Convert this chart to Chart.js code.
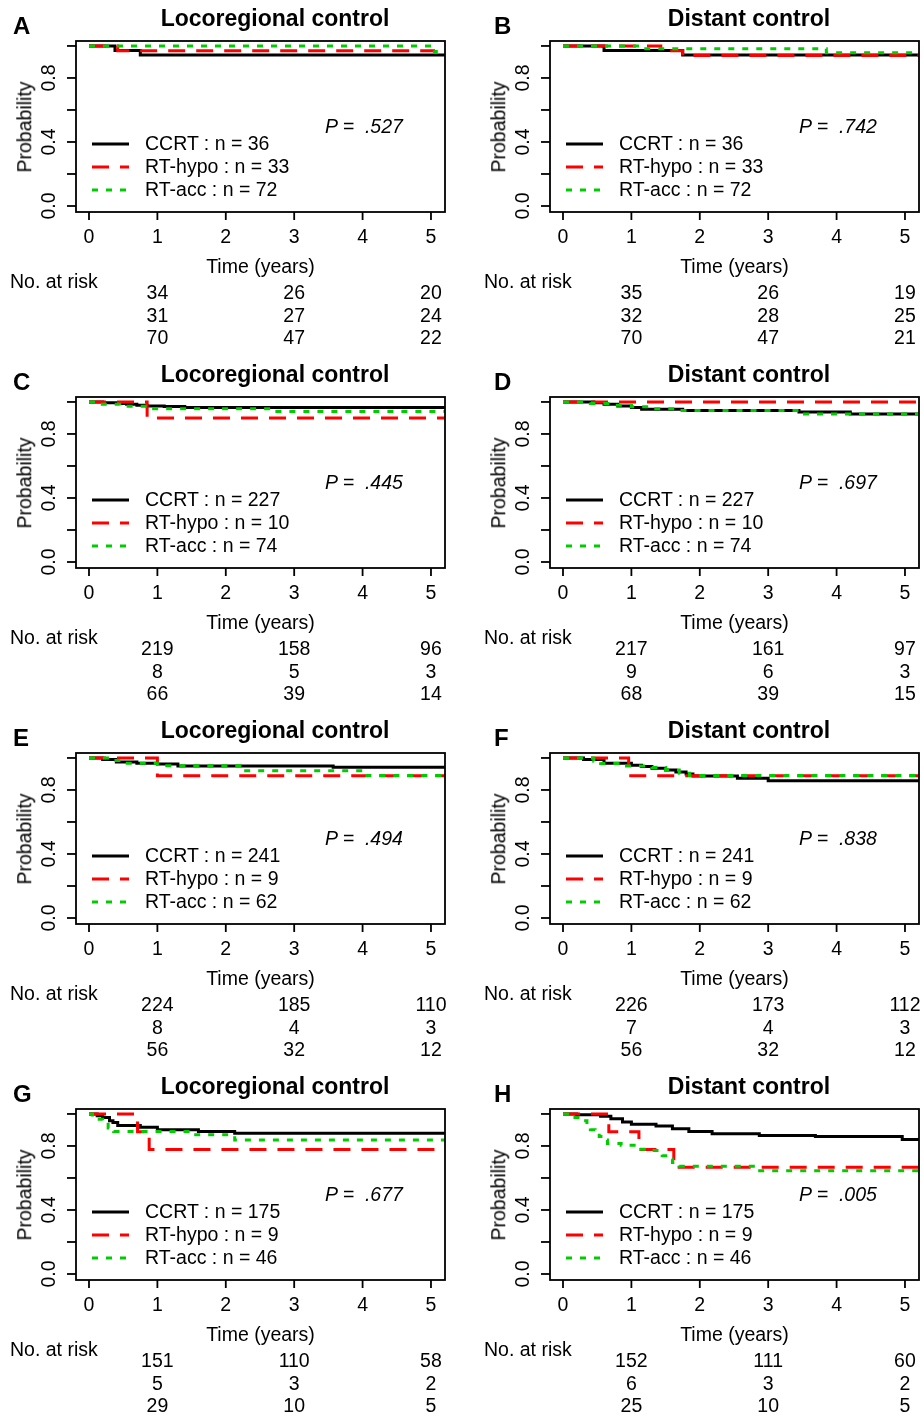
<!DOCTYPE html>
<html>
<head>
<meta charset="utf-8">
<script src="https://cdn.jsdelivr.net/npm/chart.js@4.4.0/dist/chart.umd.min.js"></script>
<style>
body { margin: 0; background: #fff; }
#page { position: relative; width: 924px; height: 1419px; overflow: hidden; font-family: "Liberation Sans", Arial, sans-serif; color: #000; }
.panel { position: absolute; width: 450px; height: 356px; }
.panel canvas { position: absolute; left: 0; top: 0; }
.t { position: absolute; white-space: pre; font-size: 19.5px; line-height: 1; }
.c { transform: translate(-50%, -50%); }
.l { transform: translate(0, -50%); }
.title { font-weight: bold; font-size: 23px; }
.letter { font-weight: bold; font-size: 24px; }
.ylab { transform: translate(-50%, -50%) rotate(-90deg); }
.pval { font-style: italic; }
</style>
</head>
<body>
<div id="page"></div>
<script>
const letters = ['A', 'B', 'C', 'D', 'E', 'F', 'G', 'H']
const titles = ['Locoregional control', 'Distant control', 'Locoregional control', 'Distant control',
                'Locoregional control', 'Distant control', 'Locoregional control', 'Distant control']
const pValues = ['.527', '.742', '.445', '.697', '.494', '.838', '.677', '.005']
const groups = ['CCRT', 'RT-hypo', 'RT-acc']
const groupN = [[36, 33, 72], [36, 33, 72], [227, 10, 74], [227, 10, 74],
                [241, 9, 62], [241, 9, 62], [175, 9, 46], [175, 9, 46]]

const xTicks = [0, 1, 2, 3, 4, 5]
const yTicks = [0, 0.2, 0.4, 0.6, 0.8, 1]
const yLabels = [0, 0.4, 0.8]
const riskTimes = [1, 3, 5]

// [time, survival] steps, one array per curve
const kmA_ccrt = [[0, 1], [0.38, 0.972], [0.75, 0.944], [6, 0.944]]
const kmA_hypo = [[0, 1], [0.42, 0.97], [5.06, 0.97]]
const kmA_acc = [[0, 1], [5.05, 0.965], [5.1, 0.965]]

const kmB_ccrt = [[0, 1], [0.6, 0.972], [1.75, 0.944], [6, 0.944]]
const kmB_hypo = [[0, 1], [1.43, 0.97], [1.75, 0.94], [6, 0.94]]
const kmB_acc = [[0, 1], [1.17, 0.983], [3.85, 0.957], [6, 0.957]]

const kmC_ccrt = [[0, 1], [0.2, 0.995], [0.4, 0.99], [0.55, 0.985], [0.7, 0.98], [0.85, 0.975], [1.1, 0.971], [1.4, 0.966], [6, 0.966]]
const kmC_hypo = [[0, 1], [0.85, 0.9], [6, 0.9]]
const kmC_acc = [[0, 1], [0.1, 0.986], [0.45, 0.973], [0.85, 0.957], [2.65, 0.94], [6, 0.94]]

const kmD_ccrt = [[0, 1], [0.45, 0.995], [0.6, 0.985], [0.8, 0.975], [1.0, 0.965], [1.15, 0.955], [1.75, 0.947], [3.45, 0.937], [4.2, 0.925], [6, 0.925]]
const kmD_hypo = [[0, 1], [6, 1]]
const kmD_acc = [[0, 1], [0.4, 0.99], [0.7, 0.98], [1.0, 0.97], [1.3, 0.958], [1.7, 0.947], [3.5, 0.925], [6, 0.925]]

const kmE_ccrt = [[0, 1], [0.2, 0.99], [0.4, 0.975], [0.7, 0.967], [1.0, 0.962], [1.3, 0.95], [3.57, 0.942], [6, 0.942]]
const kmE_hypo = [[0, 1], [1.0, 0.889], [6, 0.889]]
const kmE_acc = [[0, 1], [0.3, 0.984], [0.5, 0.967], [1.0, 0.952], [2.25, 0.92], [4.0, 0.89], [6, 0.89]]

const kmF_ccrt = [[0, 1], [0.3, 0.99], [0.6, 0.967], [1.0, 0.955], [1.15, 0.946], [1.3, 0.935], [1.5, 0.925], [1.65, 0.912],
                  [1.8, 0.9], [1.9, 0.888], [2.55, 0.873], [3.0, 0.858], [6, 0.858]]
const kmF_hypo = [[0, 1], [0.96, 0.889], [6, 0.889]]
const kmF_acc = [[0, 1], [0.45, 0.98], [0.55, 0.965], [0.9, 0.95], [1.3, 0.94], [1.5, 0.925], [1.7, 0.905], [1.85, 0.89], [6, 0.89]]

const kmG_ccrt = [[0, 1], [0.12, 0.989], [0.2, 0.978], [0.3, 0.957], [0.35, 0.946], [0.42, 0.928], [0.75, 0.917], [1.0, 0.902],
                  [1.6, 0.891], [2.13, 0.88], [6, 0.88]]
const kmG_hypo = [[0, 1], [0.71, 0.889], [0.88, 0.778], [6, 0.778]]
const kmG_acc = [[0, 1], [0.05, 0.978], [0.11, 0.967], [0.2, 0.946], [0.28, 0.913], [0.36, 0.891], [1.5, 0.87], [2.13, 0.837], [6, 0.837]]

const kmH_ccrt = [[0, 1], [0.2, 0.995], [0.55, 0.985], [0.7, 0.97], [0.87, 0.95], [1.0, 0.935], [1.36, 0.924], [1.6, 0.907],
                  [1.84, 0.891], [2.18, 0.876], [2.87, 0.865], [3.69, 0.859], [4.96, 0.841], [6, 0.841]]
const kmH_hypo = [[0, 1], [0.67, 0.889], [1.11, 0.778], [1.62, 0.667], [6, 0.667]]
const kmH_acc = [[0, 1], [0.15, 0.978], [0.28, 0.957], [0.35, 0.935], [0.4, 0.902], [0.47, 0.88], [0.53, 0.859], [0.6, 0.837],
                 [0.65, 0.815], [0.85, 0.804], [1.1, 0.78], [1.3, 0.772], [1.45, 0.739], [1.55, 0.717], [1.6, 0.696],
                 [1.7, 0.674], [2.82, 0.645], [6, 0.645]]

const curves = [
    [kmA_ccrt, kmA_hypo, kmA_acc], [kmB_ccrt, kmB_hypo, kmB_acc],
    [kmC_ccrt, kmC_hypo, kmC_acc], [kmD_ccrt, kmD_hypo, kmD_acc],
    [kmE_ccrt, kmE_hypo, kmE_acc], [kmF_ccrt, kmF_hypo, kmF_acc],
    [kmG_ccrt, kmG_hypo, kmG_acc], [kmH_ccrt, kmH_hypo, kmH_acc]
]

// numbers at risk at riskTimes, rows = CCRT, RT-hypo, RT-acc
const atRiskA = [[34, 26, 20], [31, 27, 24], [70, 47, 22]]
const atRiskB = [[35, 26, 19], [32, 28, 25], [70, 47, 21]]
const atRiskC = [[219, 158, 96], [8, 5, 3], [66, 39, 14]]
const atRiskD = [[217, 161, 97], [9, 6, 3], [68, 39, 15]]
const atRiskE = [[224, 185, 110], [8, 4, 3], [56, 32, 12]]
const atRiskF = [[226, 173, 112], [7, 4, 3], [56, 32, 12]]
const atRiskG = [[151, 110, 58], [5, 3, 2], [29, 10, 5]]
const atRiskH = [[152, 111, 60], [6, 3, 2], [25, 10, 5]]
const atRisk = [atRiskA, atRiskB, atRiskC, atRiskD, atRiskE, atRiskF, atRiskG, atRiskH]

const colors = ['#000000', '#ff0000', '#00cd00']
const dashes = [[], [17, 11], [6, 8]]
const font = '19.5px "Liberation Sans", Arial, sans-serif'

const page = document.getElementById('page')

function addText(parent, txt, x, y, cls) {
    const el = document.createElement('div')
    el.className = 't ' + cls
    el.textContent = txt
    el.style.left = x + 'px'
    el.style.top = y + 'px'
    parent.appendChild(el)
    return el
}

// box, axes and legend keys, drawn R style
const frame = {
    id: 'frame',
    afterDatasetsDraw(chart) {
        const ctx = chart.ctx
        const a = chart.chartArea
        const x = chart.scales.x
        const y = chart.scales.y
        ctx.save()
        ctx.strokeStyle = '#000'
        ctx.fillStyle = '#000'
        ctx.lineWidth = 1.8
        ctx.setLineDash([])
        ctx.strokeRect(a.left, a.top, a.right - a.left, a.bottom - a.top)
        ctx.font = font
        ctx.textAlign = 'center'
        ctx.textBaseline = 'middle'
        xTicks.forEach(v => {
            const px = x.getPixelForValue(v)
            ctx.beginPath()
            ctx.moveTo(px, a.bottom)
            ctx.lineTo(px, a.bottom + 8)
            ctx.stroke()
            ctx.fillText(String(v), px, a.bottom + 26)
        })
        yTicks.forEach(v => {
            const py = y.getPixelForValue(v)
            ctx.beginPath()
            ctx.moveTo(a.left, py)
            ctx.lineTo(a.left - 9, py)
            ctx.stroke()
        })
        yLabels.forEach(v => {
            ctx.save()
            ctx.translate(a.left - 26, y.getPixelForValue(v))
            ctx.rotate(-Math.PI / 2)
            ctx.fillText(v.toFixed(1), 0, 0)
            ctx.restore()
        })
        // legend line samples
        ctx.lineWidth = 3
        groups.forEach((g, i) => {
            const ly = a.top + 103 + i * 23
            ctx.strokeStyle = colors[i]
            ctx.setLineDash(dashes[i])
            ctx.beginPath()
            ctx.moveTo(a.left + 16, ly)
            ctx.lineTo(a.left + 53, ly)
            ctx.stroke()
        })
        ctx.restore()
    }
}

letters.forEach((letter, p) => {
    const col = p % 2
    const row = Math.floor(p / 2)
    const panel = document.createElement('div')
    panel.className = 'panel'
    panel.style.left = (col * 474) + 'px'
    panel.style.top = (row * 356) + 'px'
    page.appendChild(panel)

    const canvas = document.createElement('canvas')
    canvas.width = 450
    canvas.height = 356
    panel.appendChild(canvas)

    const chart = new Chart(canvas, {
        type: 'line',
        data: {
            datasets: curves[p].map((pts, g) => ({
                label: groups[g],
                data: pts.map(d => ({ x: d[0], y: d[1] })),
                borderColor: colors[g],
                borderDash: dashes[g],
                borderWidth: 3,
                borderCapStyle: 'butt',
                pointRadius: 0,
                stepped: true,
                fill: false,
                order: 2 - g
            }))
        },
        options: {
            responsive: false,
            animation: false,
            devicePixelRatio: 1,
            layout: { padding: { left: 76, top: 41, right: 5, bottom: 144 } },
            scales: {
                x: { type: 'linear', min: -0.19, max: 5.205, display: false },
                y: { type: 'linear', min: -0.0375, max: 1.031, display: false }
            },
            plugins: { legend: { display: false }, tooltip: { enabled: false } }
        },
        plugins: [frame]
    })

    const a = chart.chartArea
    const mid = (a.left + a.right) / 2
    addText(panel, letter, col === 0 ? 13 : 20, 26, 'letter l')
    addText(panel, titles[p], 275, 18, 'title c')
    addText(panel, 'Probability', 25, (a.top + a.bottom) / 2, 'ylab')
    addText(panel, 'Time (years)', mid, 267, 'c')
    addText(panel, 'P =  ' + pValues[p], 325, 127, 'pval l')
    groups.forEach((g, i) => {
        addText(panel, g + ' : n = ' + groupN[p][i], a.left + 69, a.top + 103 + i * 23, 'l')
    })
    addText(panel, 'No. at risk', 10, 282, 'l')
    atRisk[p].forEach((rowVals, i) => {
        rowVals.forEach((n, k) => {
            addText(panel, String(n), chart.scales.x.getPixelForValue(riskTimes[k]), 293 + i * 22.5, 'c')
        })
    })
})
</script>
</body>
</html>
